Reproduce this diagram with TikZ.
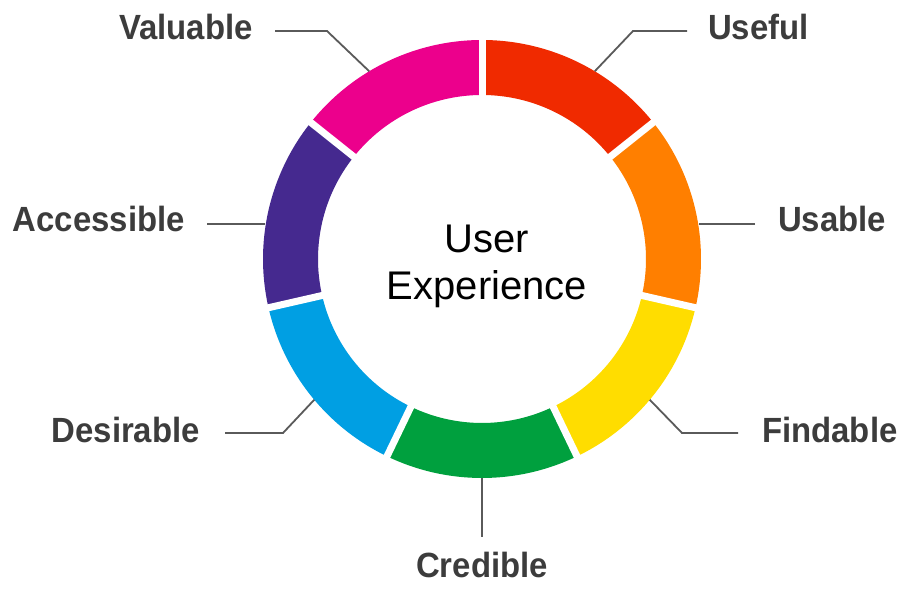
\documentclass[tikz,border=0pt]{standalone}
\usepackage{fontspec}
\setmainfont{Liberation Sans}
\newfontfamily\labfont[FakeStretch=0.94]{Liberation Sans}
\usetikzlibrary{calc}
\definecolor{cUseful}{HTML}{F02A00}
\definecolor{cUsable}{HTML}{FF7F00}
\definecolor{cFindable}{HTML}{FFDD00}
\definecolor{cCredible}{HTML}{00A03E}
\definecolor{cDesirable}{HTML}{009FE3}
\definecolor{cAccessible}{HTML}{45298F}
\definecolor{cValuable}{HTML}{EC008C}
\definecolor{labgray}{HTML}{3C3C3C}
\definecolor{linegray}{HTML}{5A5A5A}
\tikzset{
  lab/.style={inner sep=0pt, text=labgray, font=\labfont\bfseries\fontsize{35}{40}\selectfont},
  conn/.style={draw=linegray, line width=1.8pt},
  gapline/.style={draw=white, line width=7pt},
}
\newcommand{\ringseg}[3]{%
  \fill[#3] (#1:219) arc[start angle=#1, end angle=#2, radius=219]
    -- (#2:164) arc[start angle=#2, end angle=#1, radius=164] -- cycle;}
\begin{document}
\begin{tikzpicture}[x=1pt,y=1pt]
\useasboundingbox (0,0) rectangle (902,589);
\fill[white] (0,0) rectangle (902,589);
\coordinate (C) at (482,330);
\begin{scope}[shift={(482,330)}]
  \ringseg{90}{38.57}{cUseful}
  \ringseg{38.57}{-12.86}{cUsable}
  \ringseg{-12.86}{-64.29}{cFindable}
  \ringseg{-64.29}{-115.71}{cCredible}
  \ringseg{-115.71}{-167.14}{cDesirable}
  \ringseg{192.86}{141.43}{cAccessible}
  \ringseg{141.43}{90}{cValuable}
  \foreach \a in {90,38.57,-12.86,-64.29,-115.71,-167.14,141.43}
    \draw[gapline] (\a:150) -- (\a:226);
\end{scope}
\node[font=\fontsize{40}{47}\selectfont, align=center, text=black, inner sep=0pt] (ux) at (487,323) {User\\Experience};
% labels
\node[lab, anchor=base east] (valuable) at (253,549) {Valuable};
\node[lab, anchor=base west] (useful) at (708,549) {Useful};
\node[lab, anchor=base east] (accessible) at (185,357) {Accessible};
\node[lab, anchor=base west] (usable) at (778,357) {Usable};
\node[lab, anchor=base east] (desirable) at (200,146) {Desirable};
\node[lab, anchor=base west] (findable) at (762,146) {Findable};
\node[lab, anchor=base] (credible) at (482,11) {Credible};
% connector points
\coordinate (v0) at (275,558); \coordinate (v1) at (327,558); \coordinate (v2) at ($(C)+(121:219)$);
\coordinate (u0) at (687,558); \coordinate (u1) at (633,558); \coordinate (u2) at ($(C)+(59:219)$);
\coordinate (a0) at (207,365); \coordinate (a1) at (265,365);
\coordinate (s0) at (755,365); \coordinate (s1) at (699,365);
\coordinate (d0) at (225,156); \coordinate (d1) at (283,156); \coordinate (d2) at ($(C)+(220:219)$);
\coordinate (f0) at (738,156); \coordinate (f1) at (682,156); \coordinate (f2) at ($(C)+(-40:219)$);
\coordinate (c0) at (482,52); \coordinate (c1) at (482,111);
\draw[conn] (v0) -- (v1) -- (v2);
\draw[conn] (u0) -- (u1) -- (u2);
\draw[conn] (a0) -- (a1);
\draw[conn] (s0) -- (s1);
\draw[conn] (d0) -- (d1) -- (d2);
\draw[conn] (f0) -- (f1) -- (f2);
\draw[conn] (c0) -- (c1);
\end{tikzpicture}
\end{document}
